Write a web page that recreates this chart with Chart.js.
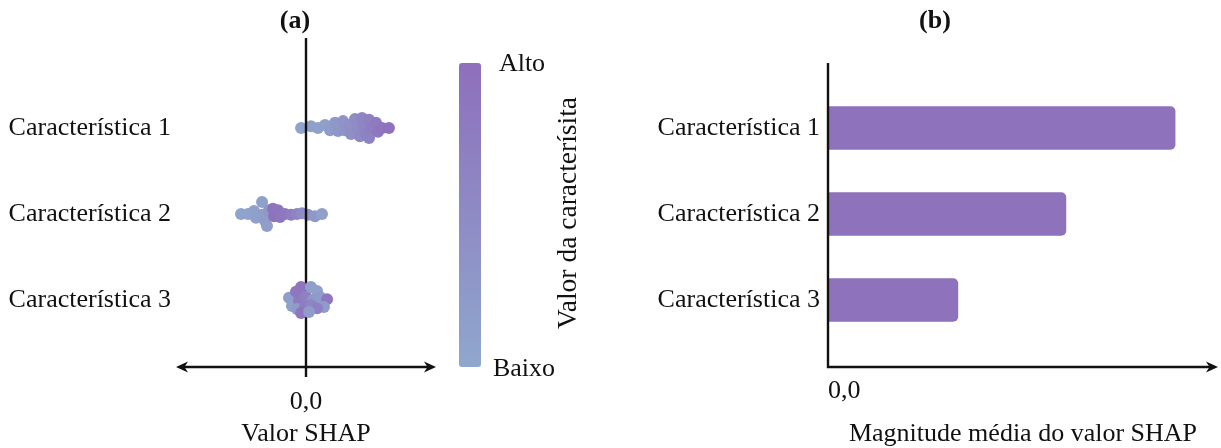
<!DOCTYPE html>
<html lang="pt">
<head>
<meta charset="utf-8">
<title>Valores SHAP</title>
<script src="https://cdn.jsdelivr.net/npm/chart.js@4.4.1/dist/chart.umd.min.js"></script>
<style>
  html, body { margin: 0; padding: 0; background: #fff; }
  body { width: 1221px; height: 448px; position: relative; overflow: hidden; }
  canvas { position: absolute; top: 0; }
  #swarm { left: 0; }
  #bars { left: 600px; }
</style>
</head>
<body>
<canvas id="swarm" width="600" height="448"></canvas>
<canvas id="bars" width="621" height="448"></canvas>
<script>
// ---- data ----
const features = ['Característica 1', 'Característica 2', 'Característica 3'];

// SHAP value of each sample, per feature
const shap1 = [-0.038, 0.038, 0.092, 0.146, 0.185, 0.223, 0.246, 0.285, 0.300, 0.331, 0.346, 0.377,
               0.392, 0.415, 0.431, 0.446, 0.462, 0.485, 0.485, 0.508, 0.538, 0.554, 0.585, 0.638];
const shap2 = [-0.500, -0.446, -0.400, -0.385, -0.338, -0.338, -0.315, -0.300, -0.285, -0.254,
               -0.246, -0.215, -0.200, -0.162, -0.115, -0.069, -0.031, 0.015, 0.069, 0.123];
const shap3 = [-0.131, -0.108, -0.077, -0.038, -0.054, 0.000, 0.038, 0.085, 0.054, 0.108,
               0.162, 0.138, -0.069, -0.008, 0.038, 0.085, -0.038, 0.023];

// vertical spread of the swarm, in rows
const spread1 = [0, -0.02, 0, -0.035, 0.025, -0.06, 0.035, -0.08, 0.025, -0.035, 0.07, -0.105,
                 0, 0.095, -0.115, -0.025, 0.07, -0.095, 0.115, 0, -0.06, 0.045, 0, 0];
const spread2 = [0, 0, -0.035, 0.045, -0.14, 0.01, 0.08, 0.14, -0.045, -0.06, 0.025, -0.045,
                 0.035, 0, 0.01, 0, -0.01, 0.01, 0.025, 0];
const spread3 = [-0.025, 0.07, -0.095, -0.15, 0.01, -0.045, -0.15, -0.105, 0, -0.035, -0.01, 0.08,
                 0.105, 0.08, 0.06, 0.095, 0.15, 0.14];

// normalised feature value of each sample (0 = Baixo, 1 = Alto)
const level1 = [0.05, 0.10, 0.12, 0.15, 0.20, 0.25, 0.30, 0.35, 0.35, 0.40, 0.45, 0.50,
                0.50, 0.55, 0.60, 0.60, 0.65, 0.70, 0.65, 0.75, 0.80, 0.85, 0.90, 0.95];
const level2 = [0.05, 0.08, 0.10, 0.12, 0.12, 0.18, 0.20, 0.15, 0.30, 0.92, 0.95, 0.90,
                0.88, 0.82, 0.75, 0.62, 0.50, 0.40, 0.25, 0.12];
const level3 = [0.15, 0.10, 0.85, 0.90, 0.80, 0.70, 0.15, 0.10, 0.25, 0.20, 0.85, 0.20,
                0.20, 0.75, 0.60, 0.70, 0.90, 0.20];

// mean |SHAP| per feature
const meanAbsShap = [0.89, 0.61, 0.333];

const colorbarLabels = ['Alto', 'Baixo'];

// ---- style ----
const FONT = 'Liberation Serif';
const INK = '#111';
const LOW = [143, 167, 205];
const HIGH = [142, 111, 188];
const BAR = '#8e72bc';

Chart.defaults.font.family = FONT;
Chart.defaults.font.size = 26;
Chart.defaults.color = INK;

function mix(t) {
  const c = LOW.map((v, i) => Math.round(v + (HIGH[i] - v) * t));
  return `rgb(${c[0]},${c[1]},${c[2]})`;
}

function arrowHead(ctx, x, y, dir) {
  // stealth-like arrow tip pointing along dir (+1 right, -1 left)
  ctx.beginPath();
  ctx.moveTo(x, y);
  ctx.lineTo(x - dir * 12, y - 5.5);
  ctx.lineTo(x - dir * 8.5, y);
  ctx.lineTo(x - dir * 12, y + 5.5);
  ctx.closePath();
  ctx.fill();
}

function swarmDataset(shap, spread, level, row, order) {
  return {
    data: shap.map((v, i) => ({ x: v, y: row + spread[i] })),
    backgroundColor: level.map(mix),
    borderWidth: 0,
    pointRadius: 6,
    pointHoverRadius: 6,
    order: order
  };
}

// ---- panel (a): swarm ----
const swarmDecor = {
  id: 'swarmDecor',
  beforeDatasetDraw(chart, args) {
    if (args.index !== 2) return;
    const { ctx, chartArea, scales } = chart;
    const x0 = scales.x.getPixelForValue(0);
    ctx.save();
    ctx.strokeStyle = INK;
    ctx.lineWidth = 2.4;
    ctx.beginPath();
    ctx.moveTo(x0, chartArea.top);
    ctx.lineTo(x0, chartArea.bottom + 10);
    ctx.stroke();
    ctx.restore();
  },
  afterDraw(chart) {
    const { ctx, chartArea } = chart;
    const y = chartArea.bottom;
    ctx.save();
    ctx.strokeStyle = INK;
    ctx.fillStyle = INK;
    ctx.lineWidth = 2.4;
    ctx.beginPath();
    ctx.moveTo(chartArea.left + 6, y);
    ctx.lineTo(chartArea.right - 6, y);
    ctx.stroke();
    arrowHead(ctx, chartArea.left, y, -1);
    arrowHead(ctx, chartArea.right, y, 1);

    // panel title
    ctx.font = `bold 26px "${FONT}"`;
    ctx.textAlign = 'center';
    ctx.textBaseline = 'middle';
    ctx.fillText('(a)', 295, 21);

    // colour bar
    const cb = { x: 459, y: 63, w: 22, h: 304 };
    const g = ctx.createLinearGradient(0, cb.y, 0, cb.y + cb.h);
    g.addColorStop(0, mix(1));
    g.addColorStop(1, mix(0));
    ctx.fillStyle = g;
    ctx.beginPath();
    ctx.roundRect(cb.x, cb.y, cb.w, cb.h, 3);
    ctx.fill();

    ctx.fillStyle = INK;
    ctx.font = `26px "${FONT}"`;
    ctx.fillText(colorbarLabels[0], 522, cb.y + 1);
    ctx.fillText(colorbarLabels[1], 524, cb.y + cb.h + 2);

    ctx.font = `27.5px "${FONT}"`;
    ctx.translate(569, 213);
    ctx.rotate(-Math.PI / 2);
    ctx.fillText('Valor da caracterísita', 0, 0);
    ctx.restore();
  }
};

new Chart(document.getElementById('swarm'), {
  type: 'scatter',
  data: {
    datasets: [
      swarmDataset(shap1, spread1, level1, 1, 0),
      swarmDataset(shap2, spread2, level2, 2, 0),
      swarmDataset(shap3, spread3, level3, 3, -1)
    ]
  },
  options: {
    responsive: false,
    animation: false,
    events: [],
    layout: { padding: { top: 38, right: 164, bottom: 0, left: 0 } },
    plugins: { legend: { display: false }, tooltip: { enabled: false } },
    scales: {
      x: {
        type: 'linear',
        min: -1,
        max: 1,
        afterFit(scale) { scale.height = 81; },
        afterBuildTicks(scale) { scale.ticks = [{ value: 0 }]; },
        grid: { display: false, drawTicks: false },
        border: { display: false },
        ticks: { padding: 20, callback: () => '0,0' },
        title: {
          display: true, text: 'Valor SHAP',
          font: { lineHeight: 1.05 },
          padding: { top: 0, bottom: 0 }
        }
      },
      y: {
        type: 'linear',
        reverse: true,
        min: -0.0465,
        max: 3.779,
        afterFit(scale) { scale.width = 176; },
        afterBuildTicks(scale) { scale.ticks = [{ value: 1 }, { value: 2 }, { value: 3 }]; },
        grid: { display: false, drawTicks: false },
        border: { display: false },
        ticks: { padding: 5, callback: (v) => features[v - 1] }
      }
    }
  },
  plugins: [swarmDecor]
});

// ---- panel (b): mean |SHAP| bars ----
const barDecor = {
  id: 'barDecor',
  afterDraw(chart) {
    const { ctx, chartArea } = chart;
    const axisY = chartArea.bottom + 24;
    ctx.save();
    ctx.strokeStyle = INK;
    ctx.fillStyle = INK;
    ctx.lineWidth = 2.4;
    ctx.beginPath();
    ctx.moveTo(chartArea.left, chartArea.top - 22);
    ctx.lineTo(chartArea.left, axisY);
    ctx.lineTo(chartArea.right - 6, axisY);
    ctx.stroke();
    arrowHead(ctx, chartArea.right, axisY, 1);

    ctx.font = `bold 26px "${FONT}"`;
    ctx.textAlign = 'center';
    ctx.textBaseline = 'middle';
    ctx.fillText('(b)', 335, 21);
    ctx.restore();
  }
};

new Chart(document.getElementById('bars'), {
  type: 'bar',
  data: {
    labels: features,
    datasets: [{
      data: meanAbsShap,
      backgroundColor: BAR,
      borderWidth: 0,
      borderRadius: 5,
      borderSkipped: 'start',
      barThickness: 43
    }]
  },
  options: {
    indexAxis: 'y',
    responsive: false,
    animation: false,
    events: [],
    layout: { padding: { top: 85, right: 3, bottom: 0, left: 0 } },
    plugins: { legend: { display: false }, tooltip: { enabled: false } },
    scales: {
      x: {
        type: 'linear',
        min: 0,
        max: 1,
        afterFit(scale) { scale.height = 105; },
        afterBuildTicks(scale) { scale.ticks = [{ value: 0 }]; },
        grid: { display: false, drawTicks: false },
        border: { display: false },
        ticks: { padding: 33, align: 'start', callback: () => '0,0' },
        title: {
          display: true, text: 'Magnitude média do valor SHAP',
          font: { lineHeight: 1.05 },
          padding: { top: 0, bottom: 0 }
        }
      },
      y: {
        type: 'category',
        afterFit(scale) { scale.width = 228; },
        grid: { display: false, drawTicks: false },
        border: { display: false },
        ticks: { padding: 8 }
      }
    }
  },
  plugins: [barDecor]
});
</script>
</body>
</html>
